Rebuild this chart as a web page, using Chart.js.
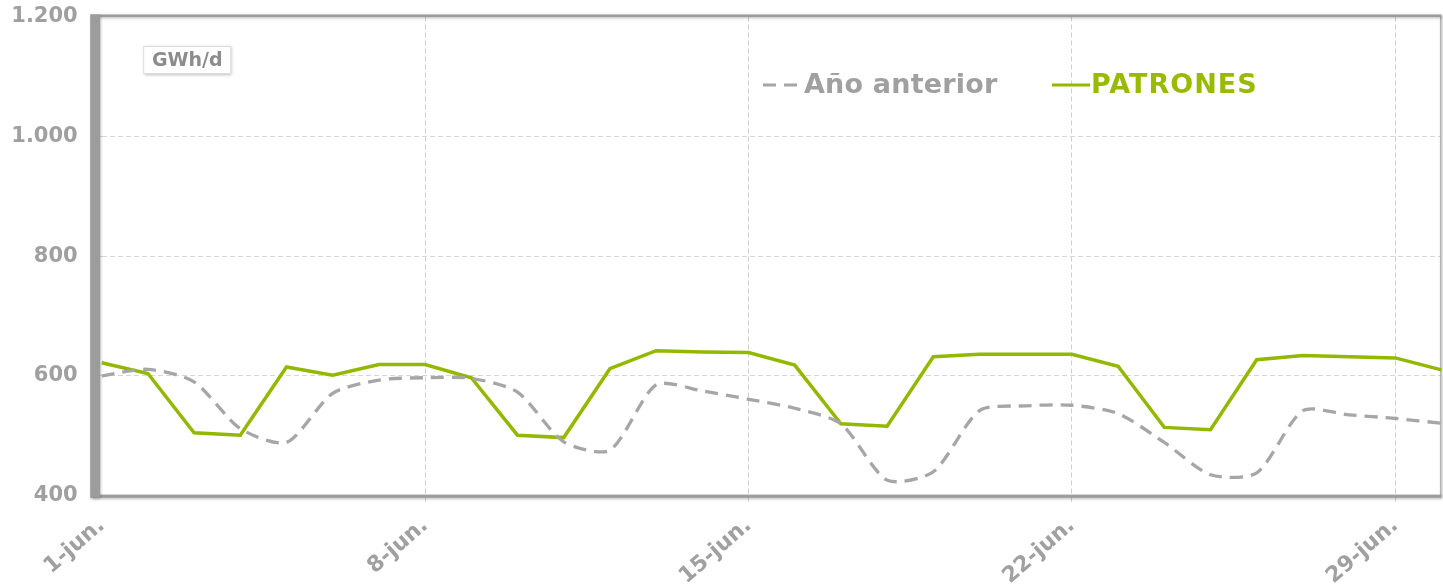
<!DOCTYPE html>
<html><head><meta charset="utf-8">
<script src="https://cdn.jsdelivr.net/npm/chart.js@4.4.0/dist/chart.umd.min.js"></script>
<style>html,body{margin:0;padding:0;background:#fff;}#c{display:block;}</style>
</head><body>
<canvas id="c" width="1443" height="586"></canvas>
<script>
const days = ['1-jun.','2-jun.','3-jun.','4-jun.','5-jun.','6-jun.','7-jun.','8-jun.','9-jun.','10-jun.',
  '11-jun.','12-jun.','13-jun.','14-jun.','15-jun.','16-jun.','17-jun.','18-jun.','19-jun.','20-jun.',
  '21-jun.','22-jun.','23-jun.','24-jun.','25-jun.','26-jun.','27-jun.','28-jun.','29-jun.','30-jun.'];
const patrones = [622,604,505,501,615,601,619,619,597,501,497,612,642,640,639,618,520,516,632,636,636,636,616,514,510,627,634,632,630,610];
const anterior = [600,611,590,512,489,571,593,597,596,573,490,476,585,575,561,546,520,426,440,542,550,551,537,489,435,438,542,535,529,521];
const yTicks = [400,600,800,1000,1200];
const yTickLabels = ['400','600','800','1.000','1.200'];
const unitLabel = 'GWh/d';

const GRAY_TXT = '#a0a0a0';
const FONT = "'DejaVu Sans', Verdana, sans-serif";

const framePlugin = {
  id: 'frame',
  beforeDatasetsDraw(chart) {
    const {ctx, chartArea: a} = chart;
    ctx.save();
    ctx.shadowColor = 'rgba(0,0,0,0.30)';
    ctx.shadowBlur = 3; ctx.shadowOffsetX = 1; ctx.shadowOffsetY = 1;
    ctx.fillStyle = '#b4b4b4';
    ctx.fillRect(a.right - 1.5, a.top, 1.5, a.bottom - a.top);
    ctx.fillStyle = '#9c9c9c';
    ctx.fillRect(a.left - 11, a.top - 2, a.right - a.left + 11, 2.5);
    ctx.fillRect(a.left - 11, a.bottom - 1, a.right - a.left + 11, 3);
    ctx.fillRect(a.left - 11.5, a.top - 2, 10, a.bottom - a.top + 4);
    ctx.restore();
    // unit box
    ctx.save();
    const bx = a.left + 41.5, by = a.top + 29.5, bw = 88, bh = 28;
    ctx.shadowColor = 'rgba(0,0,0,0.25)'; ctx.shadowBlur = 3; ctx.shadowOffsetX = 1; ctx.shadowOffsetY = 1;
    ctx.fillStyle = '#fff';
    ctx.fillRect(bx, by, bw, bh);
    ctx.shadowColor = 'transparent';
    ctx.strokeStyle = '#dcdcdc'; ctx.lineWidth = 1;
    ctx.strokeRect(bx + 0.5, by + 0.5, bw - 1, bh - 1);
    ctx.fillStyle = '#8c8c8c';
    ctx.font = 'bold 19px ' + FONT;
    ctx.textAlign = 'center'; ctx.textBaseline = 'middle';
    ctx.fillText(unitLabel, bx + bw / 2, by + bh / 2 + 1);
    ctx.restore();
  }
};

const legendPlugin = {
  id: 'customLegend',
  afterDraw(chart) {
    const {ctx} = chart;
    const ds = chart.data.datasets;
    const items = [
      {d: ds[0], x0: 763, x1: 801, tx: 804, txtColor: GRAY_TXT, ls: '0.2px'},
      {d: ds[1], x0: 1052, x1: 1090, tx: 1091, txtColor: '#98ba00', ls: '1px'}
    ];
    const y = 85;
    ctx.save();
    items.forEach(it => {
      ctx.beginPath();
      ctx.setLineDash(it.d.borderDash || []);
      ctx.strokeStyle = it.d.borderColor;
      ctx.lineWidth = 3;
      ctx.moveTo(it.x0, y); ctx.lineTo(it.x1, y);
      ctx.stroke();
      ctx.setLineDash([]);
      ctx.fillStyle = it.txtColor;
      ctx.font = 'bold 27px ' + FONT;
      ctx.letterSpacing = it.ls;
      ctx.textAlign = 'left'; ctx.textBaseline = 'middle';
      ctx.fillText(it.d.label, it.tx, y + 1);
    });
    ctx.restore();
  }
};

new Chart(document.getElementById('c'), {
  type: 'line',
  data: {
    labels: days,
    datasets: [
      {label: 'Año anterior', data: anterior, borderColor: '#a6a6a6', borderWidth: 3.3,
       borderDash: [13, 8], pointRadius: 0, tension: 0.25, fill: false},
      {label: 'PATRONES', data: patrones, borderColor: '#93b800', borderWidth: 3.5,
       pointRadius: 0, tension: 0, fill: false}
    ]
  },
  options: {
    responsive: false, devicePixelRatio: 1, animation: false,
    layout: {padding: {top: 16.5, right: 1.5, left: 0, bottom: 0}},
    plugins: {legend: {display: false}, tooltip: {enabled: false}},
    scales: {
      x: {
        offset: false,
        grid: {color: c => (c.index % 7 === 0 && c.index > 0) ? '#cfcfcf' : 'rgba(0,0,0,0)', lineWidth: 1, tickLength: 6},
        border: {display: false, dash: [5, 3]},
        ticks: {autoSkip: false, maxRotation: 41, minRotation: 41, color: GRAY_TXT, padding: 11,
          font: {family: FONT, weight: 'bold', size: 22},
          callback: (v, i) => (i % 7 === 0 ? days[i] : '')},
        afterFit: s => { s.height = 90.3; s.paddingLeft = 0; s.paddingRight = 0; }
      },
      y: {
        min: 400, max: 1200,
        afterBuildTicks: s => { s.ticks = yTicks.map(v => ({value: v})); },
        grid: {color: '#d6d6d6', lineWidth: 1, tickLength: 10},
        border: {display: false, dash: [5, 3]},
        ticks: {color: GRAY_TXT, padding: 14, font: {family: FONT, weight: 'bold', size: 21},
          callback: v => yTickLabels[yTicks.indexOf(v)]},
        afterFit: s => { s.width = 101.7; s.paddingTop = 0; s.paddingBottom = 0; }
      }
    }
  },
  plugins: [framePlugin, legendPlugin]
});
</script>
</body></html>
